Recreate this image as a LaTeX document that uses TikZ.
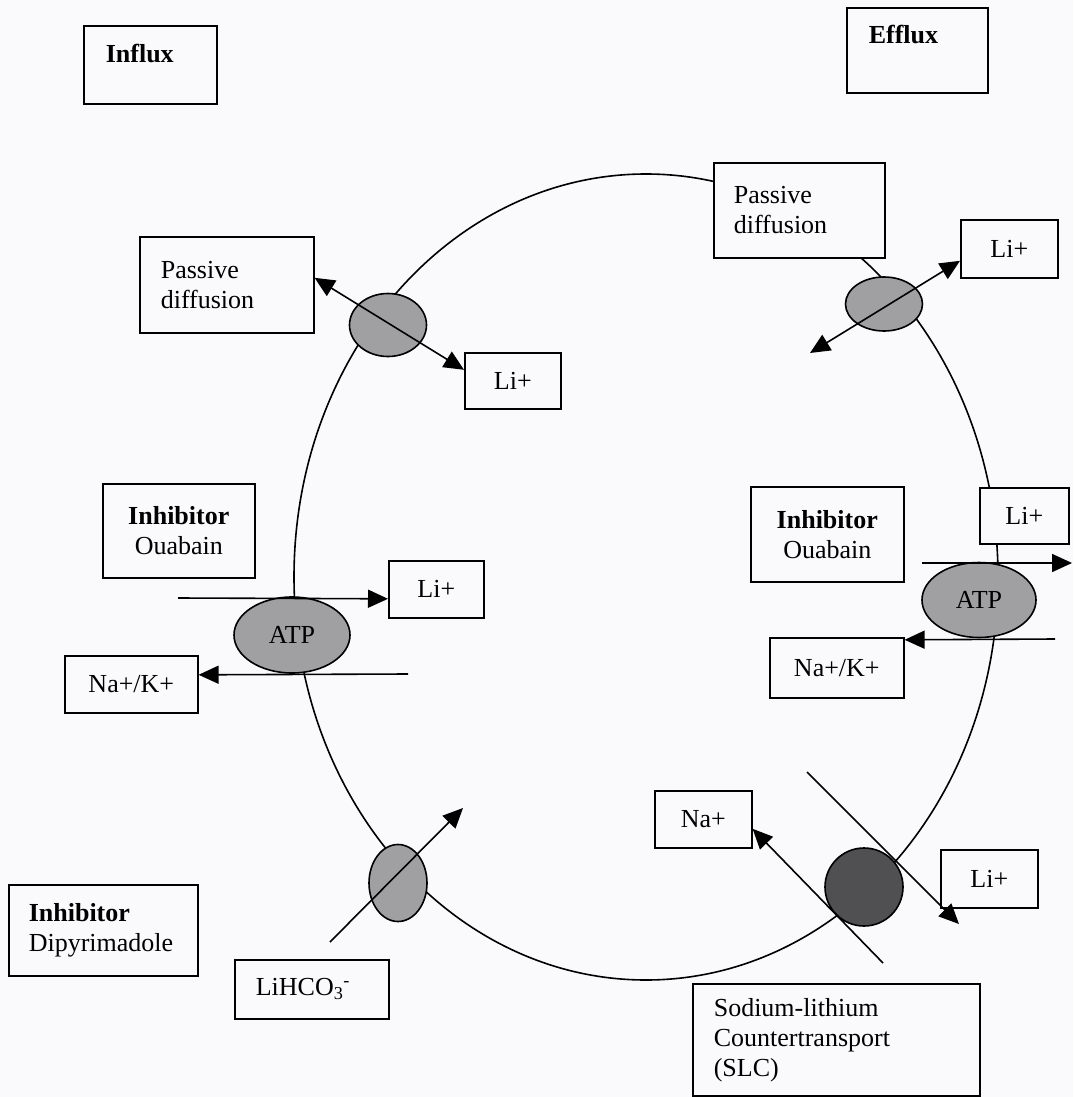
\documentclass[tikz,border=0pt]{standalone}
\usepackage{fontspec}
\setmainfont{Liberation Serif}
\usetikzlibrary{shapes.geometric,arrows.meta}
\definecolor{bgc}{RGB}{250,250,252}
\definecolor{tpfill}{RGB}{160,160,162}
\definecolor{slcfill}{RGB}{80,80,82}
\begin{document}
\begin{tikzpicture}[x=1pt,y=-1pt,
  every node/.style={font=\fontsize{26}{30}\selectfont},
  box/.style={draw, line width=1.6pt, fill=bgc, anchor=north west, inner ysep=0pt},
  lbox/.style={box, align=left},
  cbox/.style={box, align=center, inner xsep=4pt},
  tp/.style={draw, ellipse, line width=1.6pt, fill=tpfill, inner sep=0pt},
  mem/.style={draw, ellipse, line width=1.6pt, inner sep=0pt},
  arr/.style={line width=1.6pt},
  >={Triangle[length=20pt,width=18pt]}]
\path[use as bounding box, fill=bgc] (0,0) rectangle (1073,1097);

% membrane
\node[mem, minimum width=704pt, minimum height=806pt] (cell) at (646,577) {};

% titles
\node[lbox, minimum width=133pt, inner xsep=22pt, text width=89pt, text height=37pt, text depth=41pt] (influx) at (83,25) {\textbf{Influx}};
\node[lbox, minimum width=141pt, inner xsep=22pt, text width=97pt, text height=36pt, text depth=49pt] (efflux) at (846,7) {\textbf{Efflux}};

% passive diffusion
\node[lbox, minimum width=174pt, minimum height=96pt, inner xsep=21pt, text width=132pt] (pdL) at (139,236) {Passive\\diffusion};
\node[lbox, minimum width=171pt, minimum height=95pt, inner xsep=20pt, text width=131pt] (pdR) at (713,162) {Passive\\diffusion};
\node[cbox, minimum width=96pt, minimum height=56pt, text width=88pt] (liA) at (464,352) {Li+};
\node[cbox, minimum width=97pt, minimum height=58pt, text width=89pt] (liB) at (960,219) {Li+};

% ouabain
\node[cbox, minimum width=152pt, minimum height=94pt, text width=144pt] (inhL) at (102,483) {\textbf{Inhibitor}\\Ouabain};
\node[cbox, minimum width=153pt, minimum height=95pt, text width=145pt] (inhR) at (750,486) {\textbf{Inhibitor}\\Ouabain};
\node[cbox, minimum width=95pt, minimum height=57pt, text width=87pt] (liC) at (388,560) {Li+};
\node[cbox, minimum width=133pt, minimum height=57pt, text width=125pt] (nakL) at (64,655) {Na+/K+};
\node[cbox, minimum width=89pt, minimum height=56pt, text width=81pt] (liD) at (979,487) {Li+};
\node[cbox, minimum width=134pt, minimum height=60pt, text width=126pt] (nakR) at (769,637) {Na+/K+};

% dipyrimadole
\node[lbox, minimum width=189pt, minimum height=91pt, inner xsep=20pt, text width=149pt] (dip) at (8,884) {\textbf{Inhibitor}\\Dipyrimadole};
\node[lbox, minimum width=154pt, minimum height=59pt, inner xsep=21pt, text width=112pt] (lihco) at (234,959) {LiHCO\textsubscript{3}\textsuperscript{-}};

% SLC
\node[cbox, minimum width=97pt, minimum height=57pt, text width=89pt] (na) at (654,790) {Na+};
\node[cbox, minimum width=97pt, minimum height=58pt, text width=89pt] (liE) at (940,849) {Li+};
\node[lbox, minimum width=287pt, minimum height=112pt, inner xsep=21pt, text width=245pt] (slc) at (692,983) {Sodium-lithium\\Countertransport\\(SLC)};

% transporters
\node[tp, minimum width=77pt, minimum height=63pt] (tpL) at (388,325) {};
\node[tp, minimum width=77pt, minimum height=54pt] (tpR) at (884,304) {};
\node[tp, minimum width=116pt, minimum height=76pt] (atpL) at (292,635) {ATP};
\node[tp, minimum width=114pt, minimum height=75pt] (atpR) at (979,600) {ATP};
\node[tp, minimum width=58pt, minimum height=77pt] (tpB) at (398,883) {};
\node[tp, circle, fill=slcfill, minimum size=78pt] (slcC) at (864,887) {};

% free ends
\coordinate (fR) at (810,353);
\coordinate (fA1) at (178,598);
\coordinate (fA2) at (408,674);
\coordinate (fA3) at (922,563);
\coordinate (fA4) at (1072,563);
\coordinate (fA5) at (1055,639);
\coordinate (fB1) at (330,942);
\coordinate (fB2) at (463,808);
\coordinate (fS1) at (807,772);
\coordinate (fS2) at (959,924);
\coordinate (fS3) at (883,963);

% connectors
\draw[arr, <->] ([yshift=7pt]pdL.east) -- ([yshift=11pt]liA.west);
\draw[arr, <->] (fR) -- ([yshift=-12pt]liB.west);
\draw[arr, ->] (fA1) -- ([yshift=-9.5pt]liC.west);
\draw[arr, ->] (fA2) -- ([yshift=9.5pt]nakL.east);
\draw[arr, ->] (fA3) -- (fA4);
\draw[arr, ->] (fA5) -- ([yshift=28pt]nakR.east);
\draw[arr, ->] (fB1) -- (fB2);
\draw[arr, ->] (fS1) -- (fS2);
\draw[arr, ->] (fS3) -- ([yshift=-9.5pt]na.east);
\end{tikzpicture}
\end{document}
